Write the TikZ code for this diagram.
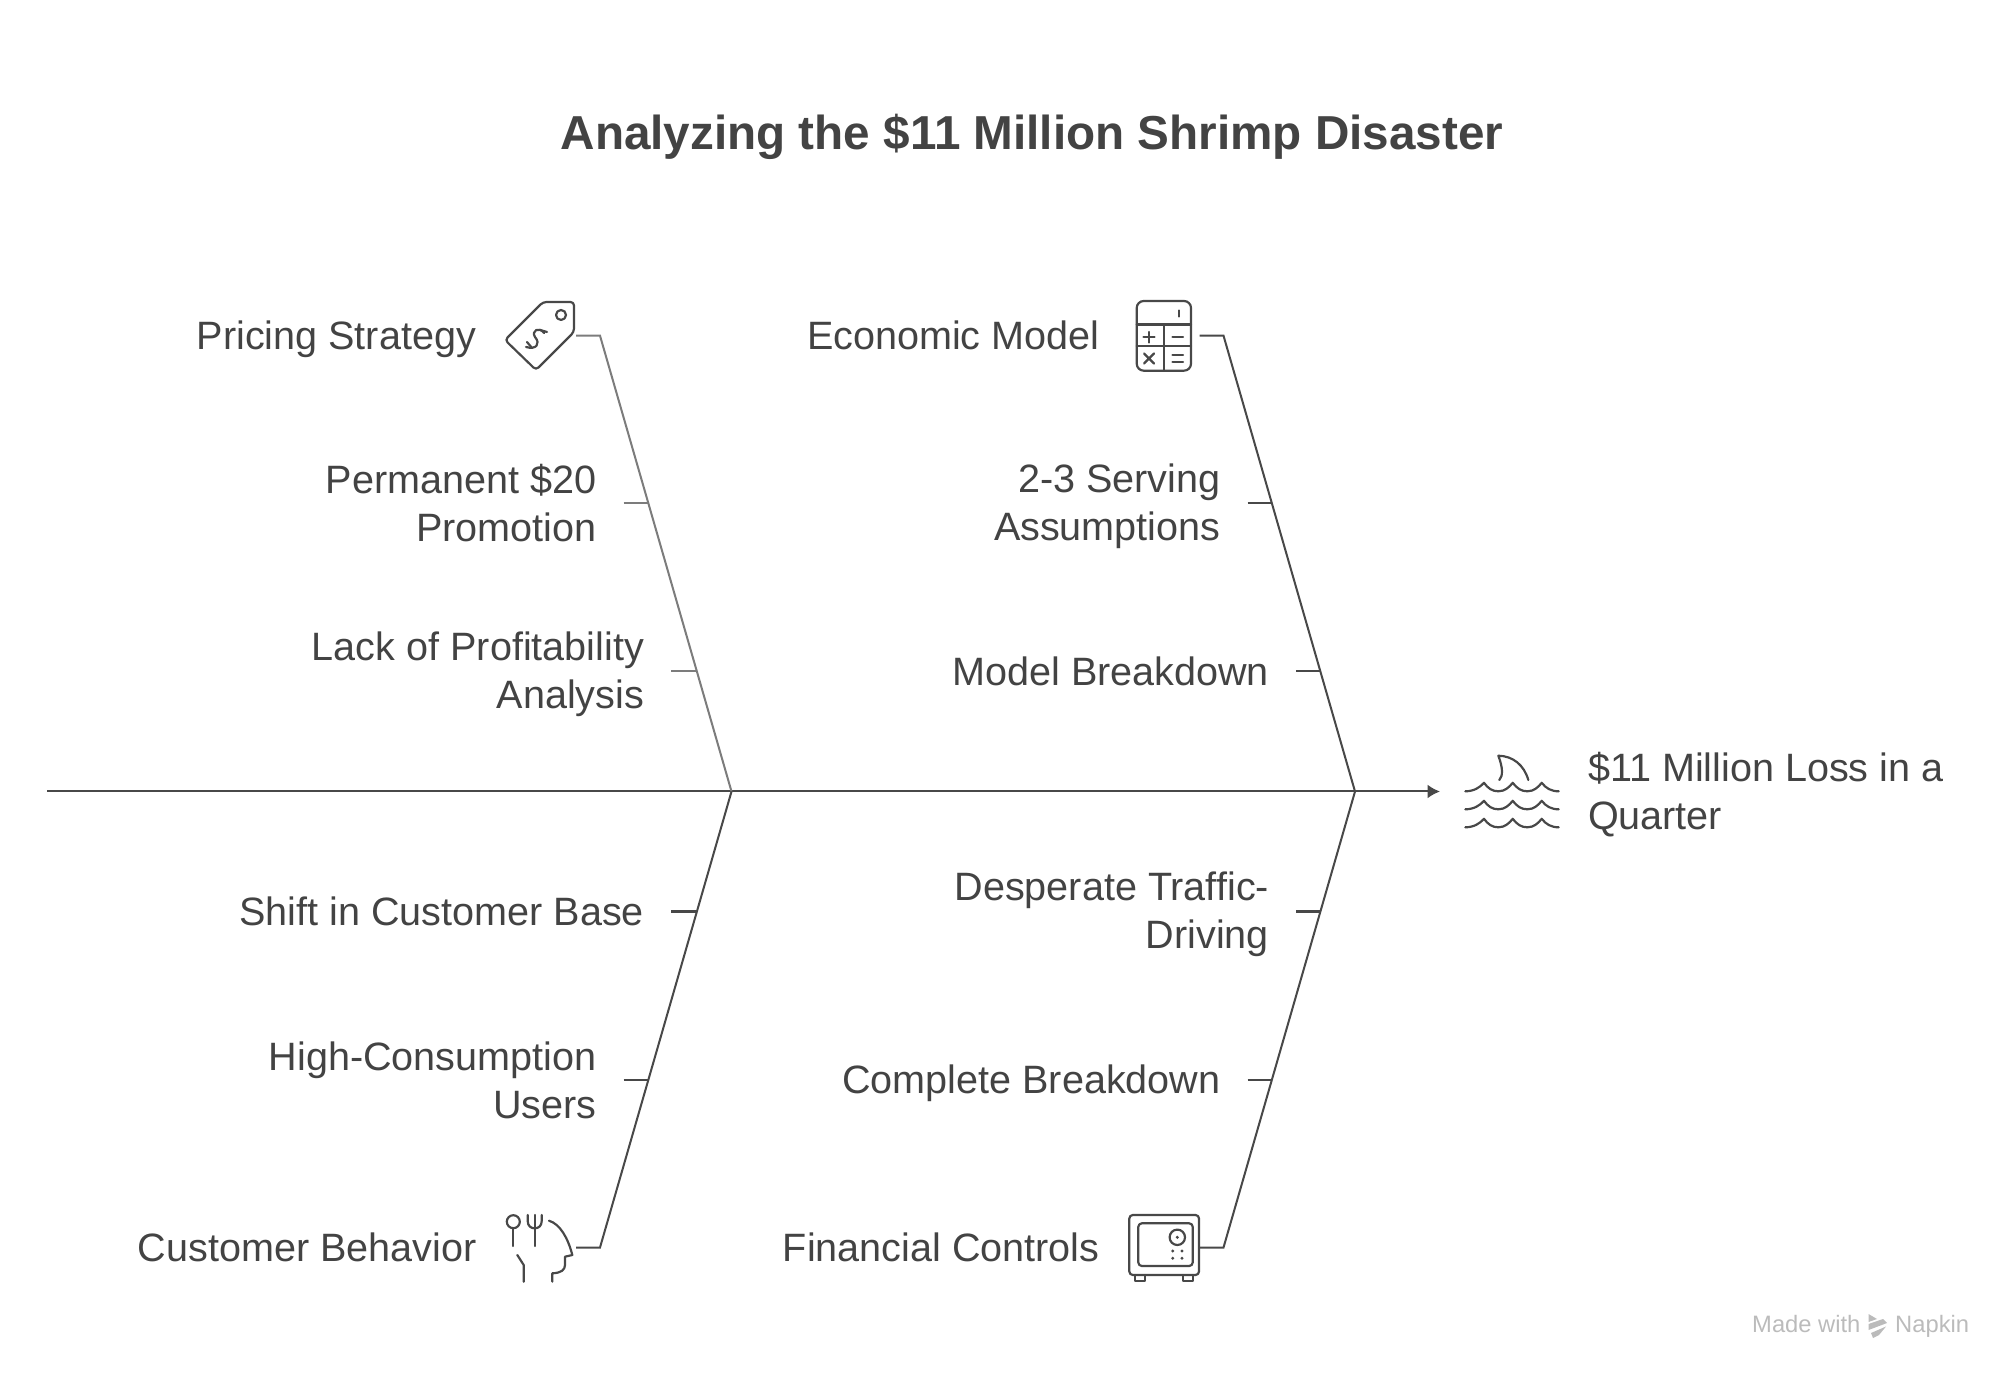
\documentclass[tikz,border=0pt]{standalone}
\usepackage{fontspec}
\setmainfont{Liberation Sans}
\usepackage{tikz}
\usetikzlibrary{arrows.meta}
\definecolor{inkdark}{HTML}{484848}
\definecolor{inkgrey}{HTML}{7C7C7C}
\definecolor{inktext}{HTML}{434343}
\definecolor{inkmark}{HTML}{BBBBBB}
\newcommand{\tallline}{\rule{0pt}{10pt}}
\tikzset{
  cause/.style={anchor=east,align=right,inner sep=0pt,outer xsep=0.27cm,text=inktext,
    font=\fontsize{11.25}{13.66}\selectfont,
    execute at end node={\rule[-2pt]{0pt}{2pt}}},
  bone/.style={draw=inkdark,line width=0.57pt},
  fadedbone/.style={draw=inkgrey,line width=0.57pt},
  glyph/.style={draw=inkdark,line width=0.62pt,line cap=round,line join=round},
  credit/.style={font=\fontsize{6.75}{8}\selectfont,text=inkmark,inner sep=0pt,anchor=base west},
}
\begin{document}
\begin{tikzpicture}[x=0.01cm,y=-0.01cm]
  \useasboundingbox (0,0) rectangle (2016,1380);
  \node[font=\fontsize{13.55}{16}\selectfont\bfseries,text=inktext,inner sep=0pt] (title) at (1032,137) {Analyzing the \$11 Million Shrimp Disaster};

  \coordinate (tail) at (47,791.5);
  \coordinate (head) at (1440,791.5);
  \coordinate (jointl) at (731.5,791.5);
  \coordinate (jointr) at (1355,791.5);
  \draw[bone,-{Latex[length=0.125cm,width=0.14cm]}] (tail) -- (head);

  \coordinate (pricebend) at (600,335.7);
  \coordinate (pricestart) at (576,335.7);
  \coordinate (econbend) at (1223.5,335.7);
  \coordinate (econstart) at (1199.5,335.7);
  \coordinate (custbend) at (600,1247.5);
  \coordinate (custstart) at (576,1247.5);
  \coordinate (finbend) at (1223.5,1247.5);
  \coordinate (finstart) at (1200,1247.5);
  \draw[fadedbone] (pricestart) -- (pricebend) -- (jointl);
  \draw[bone] (econstart) -- (econbend) -- (jointr);
  \draw[bone] (custstart) -- (custbend) -- (jointl);
  \draw[bone] (finstart) -- (finbend) -- (jointr);

  \node[cause,outer xsep=0pt] (price) at (476,335.7) {\tallline Pricing Strategy};
  \node[cause,outer xsep=0pt] (econ) at (1099.5,335.7) {\tallline Economic Model};
  \node[cause,outer xsep=0pt] (cust) at (476.5,1247.5) {\tallline Customer Behavior};
  \node[cause,outer xsep=0pt] (fin) at (1099.5,1247.5) {\tallline Financial Controls};

  \node[cause] (promo) at (623.5,503) {\tallline Permanent \$20\\Promotion};
  \node[cause] (profit) at (671,671) {\tallline Lack of Profitability\\Analysis};
  \node[cause] (shift) at (671,911.5) {\tallline Shift in Customer Base};
  \node[cause] (users) at (623.5,1080) {\tallline High-Consumption\\Users};
  \node[cause] (serving) at (1247.5,503) {\tallline 2-3 Serving\\Assumptions};
  \node[cause] (model) at (1296,671) {\tallline Model Breakdown};
  \node[cause] (traffic) at (1296,911.5) {\tallline Desperate Traffic-\\Driving};
  \node[cause] (complete) at (1247.5,1080) {\tallline Complete Breakdown};
  \node[cause,anchor=west,align=left,outer xsep=0pt] (loss) at (1588,791.5) {\tallline \$11 Million Loss in a\\Quarter};

  \coordinate (promoend) at (648,503);
  \coordinate (profitend) at (697,671);
  \coordinate (shiftend) at (697,911.5);
  \coordinate (usersend) at (648,1080);
  \coordinate (servingend) at (1272,503);
  \coordinate (modelend) at (1321,671);
  \coordinate (trafficend) at (1321,911.5);
  \coordinate (completeend) at (1272,1080);
  \draw[fadedbone] (promo.east) -- (promoend);
  \draw[fadedbone] (profit.east) -- (profitend);
  \draw[bone] (shift.east) -- (shiftend);
  \draw[bone] (users.east) -- (usersend);
  \draw[bone] (serving.east) -- (servingend);
  \draw[bone] (model.east) -- (modelend);
  \draw[bone] (traffic.east) -- (trafficend);
  \draw[bone] (complete.east) -- (completeend);

  \draw[glyph,rounded corners=1pt] (543,302) -- (574,302) -- (574,332) -- (536,370) -- (505,340) -- cycle;
  \draw[glyph] (561,315) circle (5);
  \draw[glyph] (526,347) .. controls (536,350) and (541,344) .. (535,337) .. controls (531,331) and (539,326) .. (544,333);
  \draw[glyph] (527,342) -- (532,348);
  \draw[glyph] (540,330) -- (547,332);

  \draw[glyph,rounded corners=2pt] (1136.7,301) rectangle (1191,370.7);
  \draw[glyph] (1136.7,324.5) -- (1191,324.5) (1136.7,346) -- (1191,346) (1163.7,324.5) -- (1163.7,370.7);
  \draw[glyph] (1179,310.5) -- (1179,316.5);
  \draw[glyph] (1143.5,337.3) -- (1154.5,337.3) (1149,332) -- (1149,342.5);
  \draw[glyph] (1172.5,337.3) -- (1183,337.3);
  \draw[glyph] (1144,353.5) -- (1154,363.5) (1154,353.5) -- (1144,363.5);
  \draw[glyph] (1172.5,355) -- (1183,355) (1172.5,361.7) -- (1183,361.7);

  \draw[glyph] (513.3,1221.7) circle (6.5);
  \draw[glyph] (513.3,1228) -- (513.3,1246);
  \draw[glyph] (527.7,1215) -- (527.7,1221) .. controls (527.7,1226) and (531,1228.3) .. (534.7,1228.3) .. controls (538.4,1228.3) and (541.7,1226) .. (541.7,1221) -- (541.7,1215);
  \draw[glyph] (534.7,1215) -- (534.7,1246);
  \draw[glyph] (549,1220.7) .. controls (560,1224) and (568,1238) .. (572.3,1255) -- (565,1256.7) -- (565,1265) .. controls (565,1270) and (561,1273) .. (552.3,1273.3) -- (552.3,1281.7);
  \draw[glyph] (517.3,1255) -- (523.7,1265) -- (523.7,1281.7);

  \draw[glyph,rounded corners=1pt] (1129.3,1215) rectangle (1199,1275);
  \draw[glyph,rounded corners=1pt] (1138.3,1223.3) rectangle (1192.7,1266);
  \draw[glyph] (1177.3,1237.3) circle (7.7);
  \fill[inkdark] (1177.3,1237.3) circle (1.7);
  \foreach \dotx in {1172.7,1182}
    \foreach \doty in {1251,1258.3}
      \fill[inkdark] (\dotx,\doty) circle (1.6);
  \draw[glyph] (1135,1275) -- (1135,1281) -- (1145,1281) -- (1145,1275);
  \draw[glyph] (1183,1275) -- (1183,1281) -- (1193,1281) -- (1193,1275);

  \foreach \wavey in {791.3,809.3,827.3}
    \draw[glyph] (1465.3,\wavey) .. controls (1474,\wavey) and (1480,\wavey-4) .. (1484,\wavey-8.5)
      .. controls (1488,\wavey-3) and (1492,\wavey) .. (1498.3,\wavey)
      .. controls (1505,\wavey) and (1509,\wavey-4) .. (1512.7,\wavey-8.5)
      .. controls (1517,\wavey-3) and (1521,\wavey) .. (1527.3,\wavey)
      .. controls (1534,\wavey) and (1538,\wavey-4) .. (1541.7,\wavey-8.5)
      .. controls (1546,\wavey-3) and (1551,\wavey) .. (1558.7,\wavey);
  \draw[glyph] (1499.3,780) .. controls (1503,776) and (1503,768) .. (1498.3,755.7) .. controls (1513,756) and (1524,765) .. (1528.3,780);

  \node[credit] (made) at (1751.5,1332) {Made with};
  \node[credit] (napkin) at (1894.5,1332) {Napkin};
  \fill[inkmark] (1868.5,1314) -- (1877,1319) -- (1868.5,1322) -- cycle;
  \fill[inkmark] (1868.5,1324) -- (1883,1319) -- (1887,1323) -- (1868.5,1330) -- cycle;
  \fill[inkmark] (1871,1333) -- (1886,1326.5) -- (1879,1335) -- (1873,1338) -- cycle;
\end{tikzpicture}
\end{document}
